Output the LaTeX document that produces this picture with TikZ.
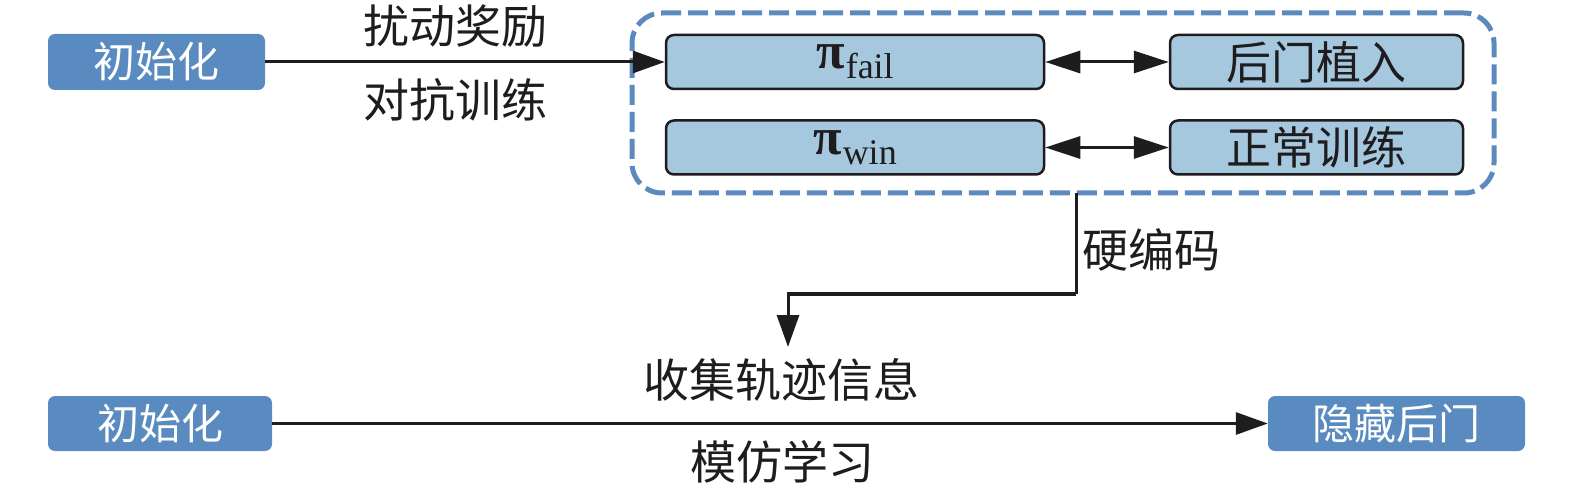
\documentclass[tikz,border=0pt]{standalone}
\usepackage{fontspec}
\setmainfont{Liberation Serif}
\newfontfamily\cjk{Noto Sans CJK SC}
\usetikzlibrary{arrows.meta}
\definecolor{darkbox}{RGB}{90,139,192}
\definecolor{lightbox}{RGB}{166,200,222}
\definecolor{dashblue}{RGB}{92,138,190}
\definecolor{ink}{RGB}{30,28,30}
\tikzset{
  darkstep/.style={fill=darkbox, rounded corners=7pt, inner sep=0pt, text=white,
    font=\cjk\fontsize{42}{46}\selectfont},
  lightstep/.style={fill=lightbox, draw=ink, line width=2.5pt, rounded corners=8pt, inner sep=0pt,
    text=ink, minimum width=378pt, minimum height=54pt},
  lbl/.style={text=ink, font=\cjk\fontsize{46}{50}\selectfont, inner sep=0pt},
  arr/.style={draw=ink, line width=3pt, -{Triangle[length=32pt,width=22pt]}},
  darr/.style={draw=ink, line width=3pt, {Triangle[length=35pt,width=22pt]}-{Triangle[length=35pt,width=22pt]}},
  grp/.style={draw=dashblue, line width=5pt, dash pattern=on 20pt off 7pt, rounded corners=30pt}
}
\begin{document}
\begin{tikzpicture}[x=1pt,y=-1pt]
\useasboundingbox (0,0) rectangle (1575,497);
% top row
\node[darkstep, minimum width=217pt, minimum height=56pt] (init1) at (156.5,62) {初始化};
\node[grp, minimum width=862pt, minimum height=180pt] (group) at (1063,103) {};
\node[lightstep] (pfail) at (855,62) {\fontsize{52}{56}\selectfont\bfseries π\kern1pt\raisebox{-10pt}{\mdseries\fontsize{36}{40}\selectfont fail}};
\node[lightstep] (pwin) at (855,147.5) {\fontsize{52}{56}\selectfont\bfseries π\kern1pt\raisebox{-10pt}{\mdseries\fontsize{36}{40}\selectfont win}};
\node[lightstep, minimum width=293pt, font=\cjk\fontsize{45}{49}\selectfont] (backdoor) at (1316.5,62) {后门植入};
\node[lightstep, minimum width=293pt, font=\cjk\fontsize{45}{49}\selectfont] (normal) at (1316.5,147.5) {正常训练};
\draw[arr] (init1.east) -- (pfail.west);
\node[lbl] (l1) at (455,26) {扰动奖励};
\node[lbl] (l2) at (455,100) {对抗训练};
\draw[darr] (pfail.east) -- (backdoor.west);
\draw[darr] (pwin.east) -- (normal.west);
% hard coding
\node[lbl] (l3) at (1151,250) {硬编码};
\node[lbl] (collect) at (781,380) {收集轨迹信息};
\coordinate (gout) at (1076,193);
\coordinate (bend) at (1076,294);
\coordinate (tip) at (788,347);
\draw[line width=3pt, draw=ink] (gout) -- (bend);
\draw[arr] (bend) -| (tip);
% bottom row
\node[darkstep, minimum width=224pt, minimum height=55pt] (init2) at (160,423.5) {初始化};
\node[darkstep, minimum width=257pt, minimum height=55pt] (hide) at (1396.5,423.5) {隐藏后门};
\draw[arr] (init2.east) -- (hide.west);
\node[lbl] (l4) at (782,462) {模仿学习};
\end{tikzpicture}
\end{document}
